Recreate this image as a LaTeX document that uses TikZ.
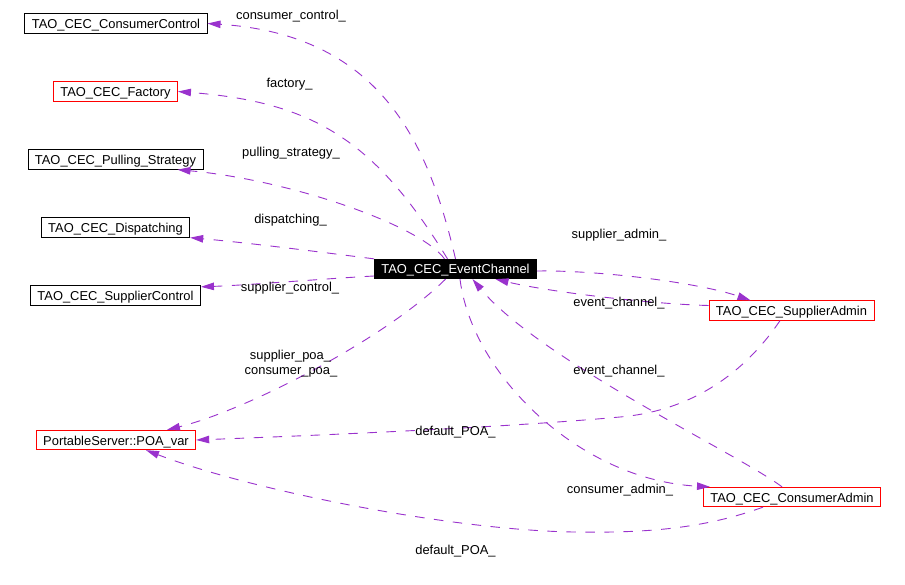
\documentclass[tikz,border=0pt]{standalone}
\usepackage{fontspec}
\setmainfont{Liberation Sans}
\usetikzlibrary{arrows.meta}
\definecolor{edgecol}{HTML}{9A32CD}
\begin{document}
\begin{tikzpicture}[x=1pt,y=-1pt,
  cls/.style={draw=black, line width=0.8pt, inner xsep=7pt, inner ysep=0pt,
    minimum height=19.5pt, font=\fontsize{12.9}{14}\selectfont,
    text height=10pt, text depth=0pt},
  redcls/.style={cls, draw=red},
  maincls/.style={cls, fill=black, text=white},
  rel/.style={draw=edgecol, line width=0.9pt, dash pattern=on 9.5pt off 9.5pt,
    -{Triangle[length=13pt,width=7.5pt,fill=edgecol]}},
  lbl/.style={font=\fontsize{12.9}{15}\selectfont, inner sep=0pt,
    text height=9.3pt, text depth=1pt}
]
\useasboundingbox[fill=white] (0,0) rectangle (905,585);

% nodes
\node[cls]     (cc)   at (116,23.5)  {TAO\_CEC\_ConsumerControl};
\node[redcls]  (fac)  at (115.5,91.5) {TAO\_CEC\_Factory};
\node[cls]     (ps)   at (115.5,159.5) {TAO\_CEC\_Pulling\_Strategy};
\node[cls]     (disp) at (115.5,227.5) {TAO\_CEC\_Dispatching};
\node[cls]     (sc)   at (115.5,295.5) {TAO\_CEC\_SupplierControl};
\node[maincls] (ec)   at (455.5,269) {TAO\_CEC\_EventChannel};
\node[redcls]  (sa)   at (791.5,310.5) {TAO\_CEC\_SupplierAdmin};
\node[redcls]  (ca)   at (792,497) {TAO\_CEC\_ConsumerAdmin};
\node[redcls]  (poa)  at (116,440) {PortableServer::POA\_var};

% connectors
\draw[rel] (ec.north) .. controls (430,150) and (385,35) .. (cc.east);
\draw[rel] ([xshift=-8pt]ec.north) .. controls (375,140) and (313,102) .. (fac.east);
\draw[rel] ([xshift=-11pt]ec.north) .. controls (420,225) and (290,180) .. ([xshift=62pt]ps.south);
\draw[rel] (ec.north west) .. controls (320,252) and (250,243) .. (disp.south east);
\draw[rel] ([yshift=-7pt]ec.west) .. controls (320,279) and (250,285) .. ([yshift=-1.5pt]sc.north east);
\draw[rel] ([xshift=-10pt]ec.south) .. controls (385,339) and (247,410) .. ([xshift=51pt]poa.north);
\draw[rel] ([yshift=-2pt]ec.east) .. controls (600,270) and (700,283) .. ([xshift=-41pt]sa.north);
\draw[rel] ([yshift=5pt]sa.west) .. controls (650,304) and (550,292) .. ([xshift=40pt]ec.south);
\draw[rel] ([xshift=-10pt]ca.north) .. controls (740,455) and (540,360) .. ([xshift=17pt]ec.south);
\draw[rel] ([xshift=4.5pt]ec.south) .. controls (472,375) and (580,480) .. ([xshift=-82pt]ca.north);
\draw[rel] ([xshift=-11.5pt]sa.south) .. controls (750,365) and (700,410) .. (620,417)
  .. controls (500,428) and (300,436) .. (poa.east);
\draw[rel] ([xshift=-29pt]ca.south) .. controls (700,530) and (640,533) .. (573,532)
  .. controls (450,530) and (250,490) .. ([xshift=30pt]poa.south);

% labels
\node[lbl] (l1) at (291,15) {consumer\_control\_};
\node[lbl] (l2) at (289.5,83) {factory\_};
\node[lbl] (l3) at (291,152) {pulling\_strategy\_};
\node[lbl] (l4) at (290.5,219) {dispatching\_};
\node[lbl] (l5) at (290,287) {supplier\_control\_};
\node[lbl] (l6) at (290.5,355) {supplier\_poa\_};
\node[lbl] (l7) at (291,370) {consumer\_poa\_};
\node[lbl] (l8) at (455.5,431) {default\_POA\_};
\node[lbl] (l9) at (455.5,550) {default\_POA\_};
\node[lbl] (l10) at (619,234) {supplier\_admin\_};
\node[lbl] (l11) at (619,302) {event\_channel\_};
\node[lbl] (l12) at (619,370) {event\_channel\_};
\node[lbl] (l13) at (620,489) {consumer\_admin\_};
\end{tikzpicture}
\end{document}
